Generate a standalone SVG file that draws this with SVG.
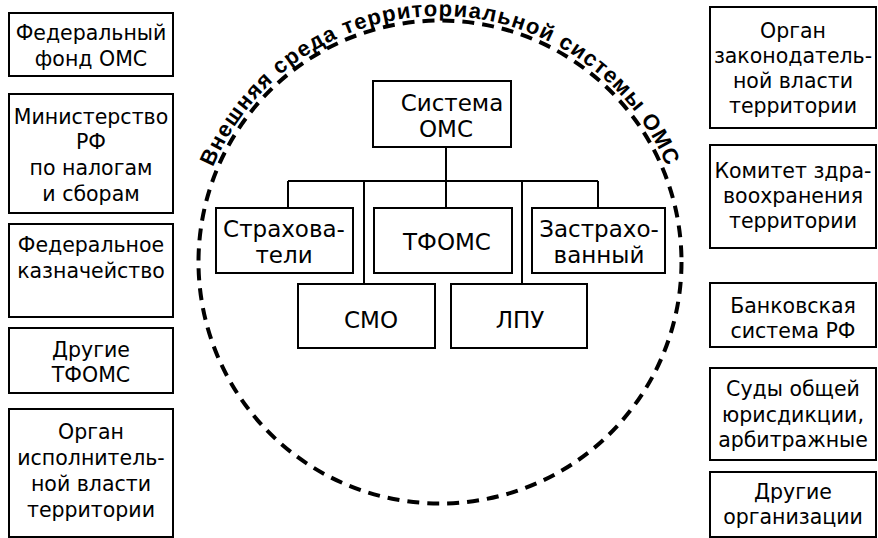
<svg xmlns="http://www.w3.org/2000/svg" width="878" height="538" viewBox="0 0 878 538">
<style>
.box{fill:#fff;stroke:#000;stroke-width:2}
.t{font-family:"DejaVu Sans","Liberation Sans",sans-serif;font-size:20.5px;fill:#000;text-anchor:middle}
.c{font-family:"DejaVu Sans","Liberation Sans",sans-serif;font-size:23px;fill:#000;text-anchor:middle}
.ln{fill:none;stroke:#000;stroke-width:2}
.arc{font-family:"Liberation Sans",Arial,sans-serif;font-size:22px;font-weight:bold;letter-spacing:1.2px;fill:#000;text-anchor:middle}
</style>
<defs>
<path id="arcPath" d="M 194 262 A 246 246 0 0 1 686 262"/>
</defs>
<rect width="878" height="538" fill="#fff"/>

<g id="environment">
<circle cx="440" cy="262" r="241.5" fill="none" stroke="#000" stroke-width="4" stroke-dasharray="12 8"/>
<text class="arc"><textPath href="#arcPath" startOffset="50%">Внешняя среда территориальной системы ОМС</textPath></text>
</g>

<g id="connectors">
<path class="ln" d="M446 147 V181 M288 181 H598 M288 181 V208 M364 181 V284 M446 181 V208 M522 181 V284 M598 181 V208"/>
</g>

<g id="n-sistema"><rect class="box" x="373" y="81" width="138" height="66"/>
<text class="c" x="452" y="111">Система</text><text class="c" x="446" y="137">ОМС</text></g>
<g id="n-strahovateli"><rect class="box" x="216" y="208" width="137" height="65"/>
<text class="c" x="284" y="237">Страхова-</text><text class="c" x="284" y="263">тели</text></g>
<g id="n-tfoms"><rect class="box" x="374" y="208" width="138" height="65"/>
<text class="c" x="447" y="250">ТФОМС</text></g>
<g id="n-zastrahovanny"><rect class="box" x="532" y="208" width="133" height="65"/>
<text class="c" x="599" y="237">Застрахо-</text><text class="c" x="599" y="263">ванный</text></g>
<g id="n-smo"><rect class="box" x="298" y="284" width="137" height="64"/>
<text class="c" x="371" y="328">СМО</text></g>
<g id="n-lpu"><rect class="box" x="451" y="284" width="136" height="64"/>
<text class="c" x="520" y="328">ЛПУ</text></g>

<g id="l-ffoms"><rect class="box" x="9" y="13" width="164" height="63"/>
<text class="t" x="91" y="40">Федеральный</text><text class="t" x="91" y="66">фонд ОМС</text></g>
<g id="l-minfin"><rect class="box" x="9" y="94" width="164" height="119"/>
<text class="t" x="91" y="124">Министерство</text><text class="t" x="91" y="149">РФ</text><text class="t" x="91" y="175">по налогам</text><text class="t" x="91" y="201">и сборам</text></g>
<g id="l-kazna"><rect class="box" x="9" y="224" width="164" height="93"/>
<text class="t" x="91" y="252">Федеральное</text><text class="t" x="91" y="278">казначейство</text></g>
<g id="l-tfoms"><rect class="box" x="9" y="328" width="164" height="65"/>
<text class="t" x="91" y="357">Другие</text><text class="t" x="91" y="382">ТФОМС</text></g>
<g id="l-ispoln"><rect class="box" x="9" y="409" width="164" height="128"/>
<text class="t" x="91" y="439">Орган</text><text class="t" x="91" y="465">исполнитель-</text><text class="t" x="91" y="491">ной власти</text><text class="t" x="91" y="517">территории</text></g>

<g id="r-zakon"><rect class="box" x="710" y="7" width="166" height="121"/>
<text class="t" x="793" y="38">Орган</text><text class="t" x="793" y="63">законодатель-</text><text class="t" x="793" y="88">ной власти</text><text class="t" x="793" y="113">территории</text></g>
<g id="r-zdrav"><rect class="box" x="710" y="145" width="166" height="103"/>
<text class="t" x="793" y="178">Комитет здра-</text><text class="t" x="793" y="203">воохранения</text><text class="t" x="793" y="228">территории</text></g>
<g id="r-bank"><rect class="box" x="710" y="283" width="166" height="64"/>
<text class="t" x="793" y="313">Банковская</text><text class="t" x="793" y="338">система РФ</text></g>
<g id="r-sud"><rect class="box" x="710" y="368" width="166" height="92"/>
<text class="t" x="793" y="396">Суды общей</text><text class="t" x="793" y="422">юрисдикции,</text><text class="t" x="793" y="447">арбитражные</text></g>
<g id="r-other"><rect class="box" x="710" y="472" width="166" height="65"/>
<text class="t" x="793" y="499">Другие</text><text class="t" x="793" y="524">организации</text></g>
</svg>
